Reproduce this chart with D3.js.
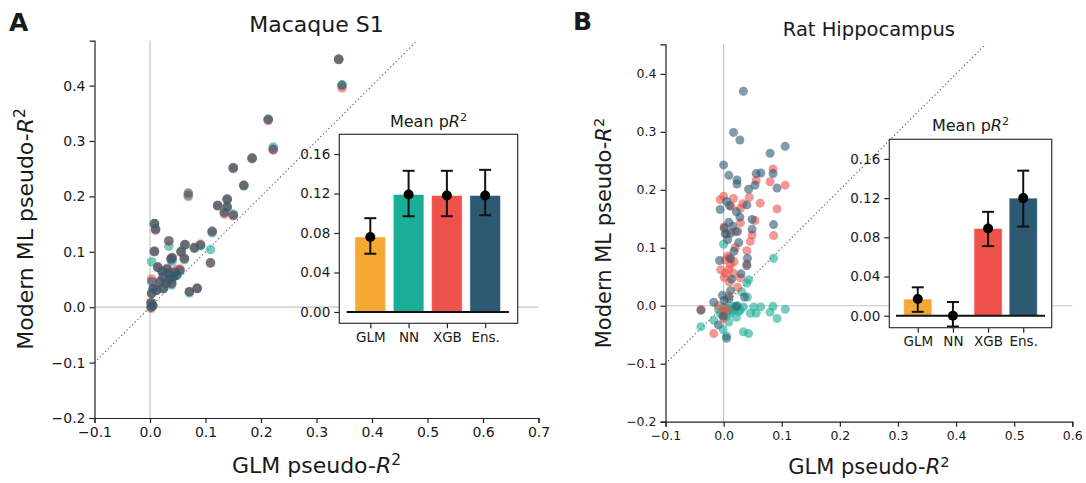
<!DOCTYPE html>
<html>
<head>
<meta charset="utf-8">
<script src="https://cdn.jsdelivr.net/npm/d3@7"></script>
<style>
  body { margin: 0; background: #fff; }
  text { font-family: "DejaVu Sans", sans-serif; fill: #1a1a1a; }
</style>
</head>
<body>
<div id="chart"></div>
<script>
// ---- data ----
var models = ["GLM", "NN", "XGB", "Ens."];
var modelColors = ["#f5a934", "#1bae97", "#ef524a", "#2b5a72"];

// panel A (Macaque S1): one GLM value per neuron, three model values
var glmA = [0.340, 0.346, 0.213, 0.222, 0.184, 0.150, 0.169, 0.069, 0.122, 0.139,
            0.139, 0.134, 0.150, 0.008, 0.010, 0.034, 0.008, 0.056, 0.063, 0.080,
            0.091, 0.112, 0.109, 0.003, 0.014, 0.038, 0.062, 0.054, 0.031, 0.024,
            0.042, 0.029, 0.039, 0.024, 0.006, 0.003, 0.012, 0.002, 0.005, 0.002,
            0.071, 0.085, 0.036, 0.033, 0.045, 0.022, 0.040, 0.018, 0.048];
var nnA  = [0.447, 0.401, 0.339, 0.289, 0.268, 0.250, 0.219, 0.200, 0.183, 0.194,
            0.181, 0.171, 0.168, 0.151, 0.141, 0.110, 0.100, 0.099, 0.112, 0.106,
            0.111, 0.134, 0.104, 0.082, 0.072, 0.085, 0.086, 0.066, 0.068, 0.054,
            0.054, 0.043, 0.040, 0.033, 0.033, 0.025, 0.030, 0.008, 0.003, 0.001,
            0.026, 0.034, 0.050, 0.060, 0.062, 0.064, 0.083, 0.045, 0.058];
var xgbA = [0.447, 0.396, 0.337, 0.284, 0.269, 0.251, 0.220, 0.202, 0.183, 0.195,
            0.180, 0.168, 0.165, 0.150, 0.139, 0.119, 0.101, 0.100, 0.113, 0.108,
            0.114, 0.137, 0.080, 0.051, 0.073, 0.088, 0.088, 0.069, 0.070, 0.055,
            0.055, 0.043, 0.043, 0.034, 0.034, 0.025, 0.031, 0.008, 0.003, -0.002,
            0.028, 0.034, 0.051, 0.061, 0.063, 0.065, 0.090, 0.046, 0.068];
var ensA = [0.448, 0.401, 0.339, 0.285, 0.269, 0.252, 0.220, 0.206, 0.184, 0.195,
            0.181, 0.171, 0.166, 0.151, 0.141, 0.120, 0.101, 0.101, 0.113, 0.107,
            0.112, 0.137, 0.080, 0.046, 0.072, 0.087, 0.088, 0.066, 0.069, 0.055,
            0.055, 0.043, 0.043, 0.034, 0.034, 0.025, 0.031, 0.008, 0.003, 0.000,
            0.028, 0.034, 0.051, 0.061, 0.063, 0.065, 0.089, 0.046, 0.058];
var meanA = [0.076, 0.119, 0.118, 0.118];
var errLoA = [0.059, 0.097, 0.097, 0.098];
var errHiA = [0.095, 0.143, 0.143, 0.144];

// panel B (Rat Hippocampus): points per model
var nnBx = [0.000, 0.086, 0.040, 0.043, 0.031, 0.041, 0.014, 0.024, 0.034, 0.052,
            0.064, 0.085, 0.106, 0.046, 0.056, 0.080, 0.092, -0.006, 0.005, 0.012,
            0.022, 0.009, -0.017, -0.039, -0.001, 0.034, 0.043, 0.005, 0.017, 0.029,
            0.006, -0.009, 0.026, 0.001, 0.019, 0.010];
var nnBy = [0.106, 0.082, 0.039, 0.045, 0.024, 0.015, -0.001, 0.000, -0.002, -0.002,
            -0.002, -0.001, -0.006, -0.013, -0.013, -0.011, -0.022, -0.013, -0.017, -0.013,
            -0.020, -0.028, -0.025, -0.036, -0.041, -0.045, -0.048, -0.052, -0.007, -0.007,
            -0.004, -0.006, -0.010, -0.003, -0.002, -0.009];
var xgbBx = [-0.039, -0.017, -0.006, 0.000, 0.017, 0.013, 0.029, 0.033, 0.044, 0.056,
             0.063, 0.085, 0.080, 0.106, 0.092, 0.086, 0.054, 0.029, 0.005, 0.001,
             0.020, 0.049, 0.046, 0.040, 0.003, 0.010, 0.018, 0.040, -0.005, 0.003,
             0.009, 0.017, 0.029, 0.001, 0.010, 0.024, -0.009, -0.001, 0.006, 0.009,
             0.000, 0.012, 0.007, 0.020];
var xgbBy = [-0.006, -0.048, 0.183, 0.189, 0.185, 0.171, 0.168, 0.176, 0.187, 0.216,
             0.177, 0.236, 0.214, 0.208, 0.167, 0.121, 0.147, 0.143, 0.124, 0.136,
             0.128, 0.122, 0.111, 0.095, 0.079, 0.083, 0.076, 0.072, 0.062, 0.056,
             0.063, 0.056, 0.048, 0.049, 0.041, 0.032, 0.000, -0.010, -0.006, 0.017,
             -0.022, 0.071, 0.086, 0.100];
var ensBx = [0.034, 0.017, 0.028, 0.106, 0.080, 0.000, 0.009, 0.023, 0.023, 0.056,
             0.064, 0.085, 0.054, 0.043, 0.092, -0.006, 0.005, 0.010, 0.040, 0.022,
             0.028, 0.049, 0.086, 0.001, 0.009, 0.016, 0.049, 0.003, 0.012, 0.024,
             0.007, 0.026, 0.018, -0.007, 0.012, 0.041, 0.040, 0.014, 0.030, 0.012,
             0.036, -0.002, -0.017, 0.001, 0.009, 0.022, -0.039, -0.001, -0.009, 0.005];
var ensBy = [0.370, 0.299, 0.286, 0.275, 0.263, 0.243, 0.225, 0.217, 0.210, 0.228,
             0.229, 0.228, 0.208, 0.201, 0.203, 0.166, 0.180, 0.173, 0.174, 0.162,
             0.153, 0.149, 0.140, 0.134, 0.144, 0.137, 0.132, 0.124, 0.125, 0.128,
             0.114, 0.109, 0.094, 0.078, 0.081, 0.082, 0.069, 0.046, 0.055, 0.026,
             0.015, 0.018, 0.006, 0.009, 0.012, -0.001, -0.008, -0.018, -0.033, -0.056];
var meanB = [0.017, 0.000, 0.089, 0.120];
var errLoB = [0.004, -0.011, 0.071, 0.091];
var errHiB = [0.029, 0.014, 0.106, 0.148];

var width = 1086, height = 483;

var svg = d3.select("#chart").append("svg")
  .attr("width", width)
  .attr("height", height);

function pseudoLabel(sel, before) {
  sel.append("tspan").text(before);
  sel.append("tspan").attr("font-style", "italic").text("R");
  sel.append("tspan").attr("font-size", "0.7em").attr("dy", "-0.5em").text("2");
}

function drawPanel(p) {
  var x = d3.scaleLinear().domain(p.xDomain).range([p.left, p.right]);
  var y = d3.scaleLinear().domain(p.yDomain).range([p.bottom, p.top]);
  var g = svg.append("g");

  // reference lines at zero
  g.append("line")
    .attr("x1", x(0)).attr("x2", x(0))
    .attr("y1", p.top).attr("y2", p.bottom)
    .attr("stroke", "#c4c4c4").attr("stroke-width", 1.2);
  g.append("line")
    .attr("x1", p.left).attr("x2", p.right)
    .attr("y1", y(0)).attr("y2", y(0))
    .attr("stroke", "#c4c4c4").attr("stroke-width", 1.2);

  // identity line
  var dEnd = Math.min(p.xDomain[1], p.yDomain[1]);
  g.append("line")
    .attr("x1", x(-0.1)).attr("y1", y(-0.1))
    .attr("x2", x(dEnd)).attr("y2", y(dEnd))
    .attr("stroke", "#555").attr("stroke-width", 1.1)
    .attr("stroke-dasharray", "1.2,2.6");

  // scatter, one series per model
  p.series.forEach(function(s) {
    g.append("g").selectAll("circle")
      .data(s.xs)
      .enter()
      .append("circle")
      .attr("cx", function(d) { return x(d); })
      .attr("cy", function(d, i) { return y(s.ys[i]); })
      .attr("r", p.dotR)
      .attr("fill", s.color)
      .attr("fill-opacity", 0.6);
  });

  // axes
  var xAxis = g.append("g")
    .attr("transform", "translate(0," + p.bottom + ")")
    .call(d3.axisBottom(x).tickValues(p.xTicks).tickFormat(d3.format(".1f"))
      .tickSizeOuter(0).tickSize(5).tickPadding(4));
  var yAxis = g.append("g")
    .attr("transform", "translate(" + p.left + ",0)")
    .call(d3.axisLeft(y).tickValues(p.yTicks).tickFormat(d3.format(".1f"))
      .tickSizeOuter(0).tickSize(5).tickPadding(4));
  [xAxis, yAxis].forEach(function(a) {
    a.selectAll("text").attr("font-size", p.tickFont).style("font-family", "DejaVu Sans").attr("fill", "#1a1a1a");
    a.selectAll("path, line").attr("stroke", "#222").attr("stroke-width", 1.2);
  });

  // labels
  g.append("text")
    .attr("x", (p.left + p.right) / 2).attr("y", p.titleY)
    .attr("text-anchor", "middle").attr("font-size", p.titleFont)
    .text(p.title);
  svg.append("text")
    .attr("x", p.letterX).attr("y", p.letterY)
    .attr("font-size", 25).attr("font-weight", "bold")
    .text(p.letter);
  var xl = g.append("text")
    .attr("x", (p.left + p.right) / 2).attr("y", p.xLabelY)
    .attr("text-anchor", "middle").attr("font-size", p.labelFont);
  pseudoLabel(xl, "GLM pseudo-");
  var yl = g.append("text")
    .attr("transform", "translate(" + p.yLabelX + "," + p.yLabelY + ") rotate(-90)")
    .attr("text-anchor", "middle").attr("font-size", p.labelFont);
  pseudoLabel(yl, "Modern ML pseudo-");

  drawInset(p.inset);
}

function drawInset(q) {
  var x = d3.scaleLinear().domain(q.xDomain).range([q.left, q.right]);
  var y = d3.scaleLinear().domain(q.yDomain).range([q.bottom, q.top]);
  var g = svg.append("g");

  g.append("rect")
    .attr("x", q.left).attr("y", q.top)
    .attr("width", q.right - q.left).attr("height", q.bottom - q.top)
    .attr("fill", "#fff");

  var bw = x(0.4) - x(0);
  g.selectAll(".bar")
    .data(q.means)
    .enter()
    .append("rect")
    .attr("class", "bar")
    .attr("x", function(d, i) { return x(i) - bw; })
    .attr("width", 2 * bw)
    .attr("y", function(d) { return y(Math.max(d, 0)); })
    .attr("height", function(d) { return Math.abs(y(d) - y(0)); })
    .attr("fill", function(d, i) { return modelColors[i]; })
    .attr("stroke", "#fff").attr("stroke-opacity", 0.5).attr("stroke-width", 1);

  // zero line
  g.append("line")
    .attr("x1", x(-0.62)).attr("x2", x(3.62))
    .attr("y1", y(0)).attr("y2", y(0))
    .attr("stroke", "#111").attr("stroke-width", 2);

  // error bars
  q.means.forEach(function(m, i) {
    var cx = x(i);
    g.append("line")
      .attr("x1", cx).attr("x2", cx)
      .attr("y1", y(q.lo[i])).attr("y2", y(q.hi[i]))
      .attr("stroke", "#111").attr("stroke-width", 2);
    [q.lo[i], q.hi[i]].forEach(function(v) {
      g.append("line")
        .attr("x1", cx - 6).attr("x2", cx + 6)
        .attr("y1", y(v)).attr("y2", y(v))
        .attr("stroke", "#111").attr("stroke-width", 2);
    });
    g.append("circle")
      .attr("cx", cx).attr("cy", y(m)).attr("r", 5)
      .attr("fill", "#000");
  });

  // frame
  g.append("rect")
    .attr("x", q.left).attr("y", q.top)
    .attr("width", q.right - q.left).attr("height", q.bottom - q.top)
    .attr("fill", "none").attr("stroke", "#333").attr("stroke-width", 1.2);

  var xa = g.append("g")
    .attr("transform", "translate(0," + q.bottom + ")")
    .call(d3.axisBottom(x).tickValues([0, 1, 2, 3])
      .tickFormat(function(d) { return models[d]; })
      .tickSizeOuter(0).tickSize(5).tickPadding(4));
  var ya = g.append("g")
    .attr("transform", "translate(" + q.left + ",0)")
    .call(d3.axisLeft(y).tickValues([0, 0.04, 0.08, 0.12, 0.16])
      .tickFormat(d3.format(".2f"))
      .tickSizeOuter(0).tickSize(5).tickPadding(4));
  [xa, ya].forEach(function(a) {
    a.select(".domain").remove();
    a.selectAll("text").attr("font-size", 13.5).style("font-family", "DejaVu Sans").attr("fill", "#1a1a1a");
    a.selectAll("line").attr("stroke", "#222").attr("stroke-width", 1.2);
  });

  var t = g.append("text")
    .attr("x", (q.left + q.right) / 2).attr("y", q.titleY)
    .attr("text-anchor", "middle").attr("font-size", 16);
  t.append("tspan").text("Mean p");
  t.append("tspan").attr("font-style", "italic").text("R");
  t.append("tspan").attr("font-size", "0.7em").attr("dy", "-0.5em").text("2");
}

drawPanel({
  letter: "A", letterX: 9, letterY: 31,
  title: "Macaque S1", titleY: 32, titleFont: 22,
  left: 94.5, right: 538.5, top: 40.7, bottom: 418,
  xDomain: [-0.1, 0.7], yDomain: [-0.2, 0.481],
  xTicks: [-0.1, 0, 0.1, 0.2, 0.3, 0.4, 0.5, 0.6, 0.7],
  yTicks: [-0.2, -0.1, 0, 0.1, 0.2, 0.3, 0.4],
  tickFont: 14, labelFont: 22, dotR: 4.8,
  xLabelY: 473, yLabelX: 33, yLabelY: 229,
  series: [
    { xs: glmA, ys: nnA, color: modelColors[1] },
    { xs: glmA, ys: xgbA, color: modelColors[2] },
    { xs: glmA, ys: ensA, color: modelColors[3] }
  ],
  inset: {
    left: 339.3, right: 517.7, top: 134.3, bottom: 323.3,
    xDomain: [-0.81, 3.85], yDomain: [-0.0115, 0.18],
    means: meanA, lo: errLoA, hi: errHiA, titleY: 126.7
  }
});

drawPanel({
  letter: "B", letterX: 573, letterY: 30,
  title: "Rat Hippocampus", titleY: 36, titleFont: 19.5,
  left: 665.5, right: 1072.3, top: 44.3, bottom: 421.7,
  xDomain: [-0.1, 0.6], yDomain: [-0.2, 0.451],
  xTicks: [-0.1, 0, 0.1, 0.2, 0.3, 0.4, 0.5, 0.6],
  yTicks: [-0.2, -0.1, 0, 0.1, 0.2, 0.3, 0.4],
  tickFont: 12.5, labelFont: 21, dotR: 4.5,
  xLabelY: 474, yLabelX: 611, yLabelY: 233,
  series: [
    { xs: nnBx, ys: nnBy, color: modelColors[1] },
    { xs: xgbBx, ys: xgbBy, color: modelColors[2] },
    { xs: ensBx, ys: ensBy, color: modelColors[3] }
  ],
  inset: {
    left: 889.3, right: 1051.7, top: 139.3, bottom: 327.7,
    xDomain: [-0.81, 3.81], yDomain: [-0.0122, 0.18],
    means: meanB, lo: errLoB, hi: errHiB, titleY: 130.7
  }
});
</script>
</body>
</html>
